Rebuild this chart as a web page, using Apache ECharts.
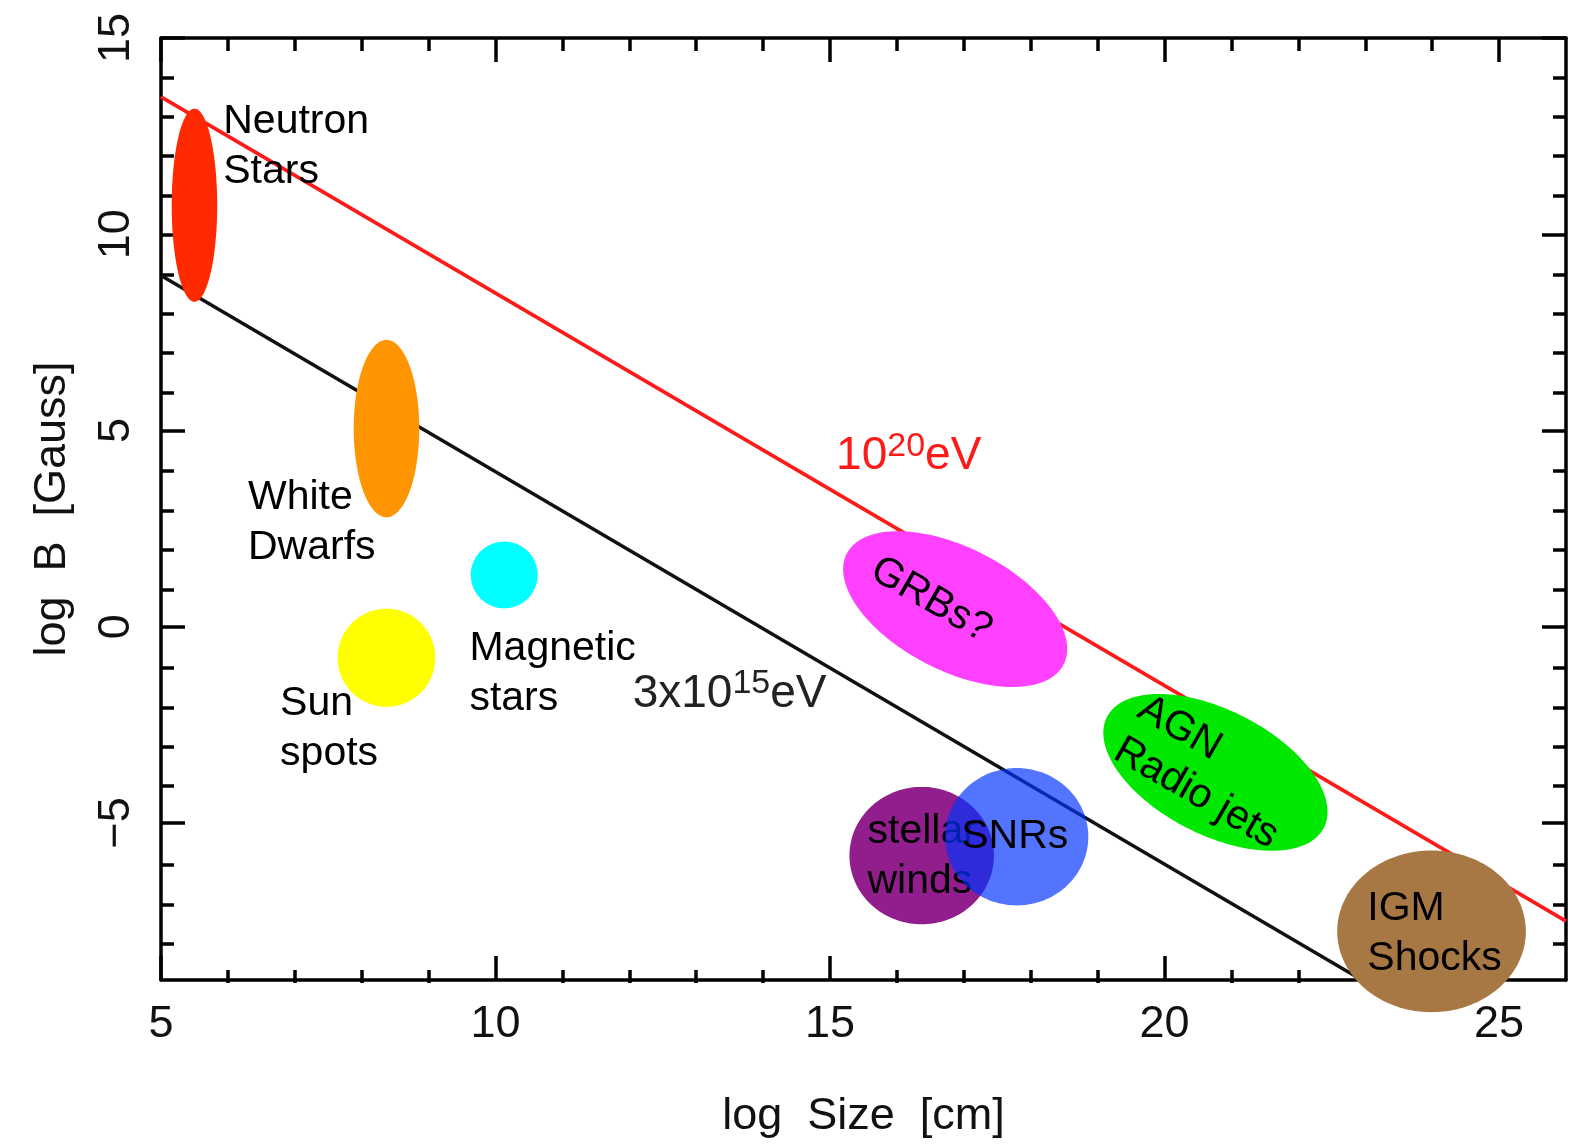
<!DOCTYPE html>
<html>
<head>
<meta charset="utf-8">
<style>html,body{margin:0;padding:0;background:#fff}#c{width:1572px;height:1144px}</style>
<script src="https://cdn.jsdelivr.net/npm/echarts@6/dist/echarts.min.js"></script>
</head>
<body>
<div id="c"></div>
<script>
// ---- data ----
const xRange = [5, 26];
const yRange = [-9, 15];
const xMajorTicks = [5, 10, 15, 20, 25];
const xMinorTicks = [6, 7, 8, 9, 11, 12, 13, 14, 16, 17, 18, 19, 21, 22, 23, 24];
const yMajorTicks = [-5, 0, 5, 10, 15];
const yMinorTicks = [-8, -7, -6, -4, -3, -2, -1, 1, 2, 3, 4, 6, 7, 8, 9, 11, 12, 13, 14];

// Hillas lines (log Size, log B)
const line1e20 = [[5, 13.5], [26, -7.5]];
const line3e15 = [[5, 8.95], [22.95, -9]];

// source regions: centre, half extents (log units), tilt (deg)
const regionNames = ['Neutron Stars', 'White Dwarfs', 'Magnetic stars', 'Sun spots', 'GRBs?', 'AGN Radio jets', 'stellar winds', 'SNRs', 'IGM Shocks'];
const regionX  = [5.50, 8.37, 10.13, 8.37, 16.87, 20.76, 16.37, 17.79, 23.99];
const regionY  = [10.74, 5.05, 1.32, -0.79, 0.45, -3.71, -5.83, -5.35, -7.76];
const regionHalfX = [0.34, 0.49, 0.50, 0.73, 1.82, 1.82, 1.08, 1.07, 1.41];
const regionHalfY = [2.46, 2.26, 0.85, 1.25, 1.57, 1.59, 1.75, 1.75, 2.06];
const regionTilt  = [0, 0, 0, 0, 27, 27, 0, 0, 0];

// region labels
const labelText = ['Neutron\nStars', 'White\nDwarfs', 'Magnetic\nstars', 'Sun\nspots', 'GRBs?', 'AGN\nRadio jets', 'stellar\nwinds', 'SNRs', 'IGM\nShocks'];
const labelX = [5.93, 6.30, 9.61, 6.78, 16.51, 19.47, 15.56, 16.96, 23.03];
const labelY = [12.22, 2.65, -1.19, -2.59, 0.68, -2.55, -5.86, -5.36, -7.83];
const labelTilt = [0, 0, 0, 0, 30, 30, 0, 0, 0];

// energy labels
const energyBase = ['10', '3x10'];
const energyExp = ['20', '15'];
const energyX = [15.09, 12.05];
const energyY = [4.33, -1.71];

// ---- styles ----
const regionColors = ['#ff2a00', '#ff9500', '#00ffff', '#ffff00', '#ff40ff', '#00e800', '#911e8c', 'rgba(0,50,255,0.68)', '#a87844'];
const labelAlign = ['left', 'left', 'left', 'left', 'center', 'left', 'left', 'left', 'left'];
const energyColors = ['#ff1a1a', '#222'];
const FONT = '"Liberation Sans", Arial, sans-serif';
const AXW = 3.5;

const chart = echarts.init(document.getElementById('c'));
const gridRect = { left: 161, top: 38, width: 1405, height: 945 };

function majorX(pos, show) {
  return {
    type: 'value', gridIndex: 0, min: xRange[0], max: xRange[1], position: pos,
    axisLine: { show: true, onZero: false, lineStyle: { color: '#000', width: AXW } },
    axisTick: { show: true, inside: true, length: 24, customValues: xMajorTicks, lineStyle: { color: '#000', width: AXW } },
    axisLabel: { show: show, customValues: xMajorTicks, fontSize: 45, color: '#111', margin: 22, fontFamily: FONT },
    splitLine: { show: false },
    name: show ? 'log  Size  [cm]' : '', nameLocation: 'middle', nameGap: 114,
    nameTextStyle: { fontSize: 45, color: '#111', fontFamily: FONT }
  };
}
function minorX(pos) {
  return {
    type: 'value', gridIndex: 1, min: xRange[0], max: xRange[1], position: pos,
    axisLine: { show: false, onZero: false },
    axisTick: { show: true, inside: true, length: 13, customValues: xMinorTicks, lineStyle: { color: '#000', width: AXW } },
    axisLabel: { show: false }, splitLine: { show: false }
  };
}
function majorY(pos, show) {
  return {
    type: 'value', gridIndex: 0, min: yRange[0], max: yRange[1], position: pos,
    axisLine: { show: true, onZero: false, lineStyle: { color: '#000', width: AXW } },
    axisTick: { show: true, inside: true, length: 24, customValues: yMajorTicks, lineStyle: { color: '#000', width: AXW } },
    axisLabel: { show: show, customValues: yMajorTicks, rotate: 90, fontSize: 45, color: '#111', margin: 22, fontFamily: FONT,
      formatter: v => (v < 0 ? '\u2212' + Math.abs(v) : String(v)) },
    splitLine: { show: false },
    name: show ? 'log  B  [Gauss]' : '', nameLocation: 'middle', nameGap: 86, nameRotate: 90,
    nameTextStyle: { fontSize: 45, color: '#111', fontFamily: FONT }
  };
}
function minorY(pos) {
  return {
    type: 'value', gridIndex: 1, min: yRange[0], max: yRange[1], position: pos,
    axisLine: { show: false, onZero: false },
    axisTick: { show: true, inside: true, length: 13, customValues: yMinorTicks, lineStyle: { color: '#000', width: AXW } },
    axisLabel: { show: false }, splitLine: { show: false }
  };
}

function renderRegion(params, api) {
  const i = params.dataIndex;
  const c = api.coord([api.value(0), api.value(1)]);
  const s = api.size([api.value(2), api.value(3)]);
  const th = api.value(4) * Math.PI / 180;
  const pts = [];
  const N = 160;
  for (let k = 0; k < N; k++) {
    const t = k / N * 2 * Math.PI;
    const ex = s[0] * Math.cos(t), ey = s[1] * Math.sin(t);
    pts.push([c[0] + ex * Math.cos(th) - ey * Math.sin(th), c[1] + ex * Math.sin(th) + ey * Math.cos(th)]);
  }
  const lp = api.coord([labelX[i], labelY[i]]);
  return {
    type: 'group',
    children: [
      { type: 'polygon', shape: { points: pts }, style: { fill: regionColors[i] } },
      { type: 'text', x: lp[0], y: lp[1], rotation: -labelTilt[i] * Math.PI / 180,
        style: { text: labelText[i], fill: '#000', fontSize: 41, fontFamily: FONT,
          align: labelAlign[i], verticalAlign: 'middle', lineHeight: i === 5 ? 48 : 50 } }
    ]
  };
}

function renderEnergy(params, api) {
  const i = params.dataIndex;
  const p = api.coord([api.value(0), api.value(1)]);
  const col = energyColors[i];
  return {
    type: 'text', x: p[0], y: p[1],
    style: {
      text: '{m|' + energyBase[i] + '}{s|' + energyExp[i] + '}{m|eV}',
      align: 'left', verticalAlign: 'middle',
      rich: {
        m: { fontSize: 46, lineHeight: 54, fill: col, fontFamily: FONT },
        s: { fontSize: 34, lineHeight: 12, fill: col, fontFamily: FONT, verticalAlign: 'top' }
      }
    }
  };
}

chart.setOption({
  backgroundColor: '#fff',
  animation: false,
  grid: [Object.assign({}, gridRect), Object.assign({}, gridRect)],
  xAxis: [majorX('bottom', true), majorX('top', false), minorX('bottom'), minorX('top')],
  yAxis: [majorY('left', true), majorY('right', false), minorY('left'), minorY('right')],
  series: [
    { type: 'line', xAxisIndex: 0, yAxisIndex: 0, data: line1e20, symbol: 'none', z: 2,
      lineStyle: { color: '#ff1a1a', width: 3.5 } },
    { type: 'line', xAxisIndex: 0, yAxisIndex: 0, data: line3e15, symbol: 'none', z: 2,
      lineStyle: { color: '#111', width: 3.5 } },
    { type: 'custom', xAxisIndex: 0, yAxisIndex: 0, z: 3, clip: false,
      data: regionNames.map((n, i) => [regionX[i], regionY[i], regionHalfX[i], regionHalfY[i], regionTilt[i]]),
      renderItem: renderRegion },
    { type: 'custom', xAxisIndex: 0, yAxisIndex: 0, z: 4, clip: false,
      data: energyBase.map((b, i) => [energyX[i], energyY[i]]),
      renderItem: renderEnergy }
  ]
});
</script>
</body>
</html>
